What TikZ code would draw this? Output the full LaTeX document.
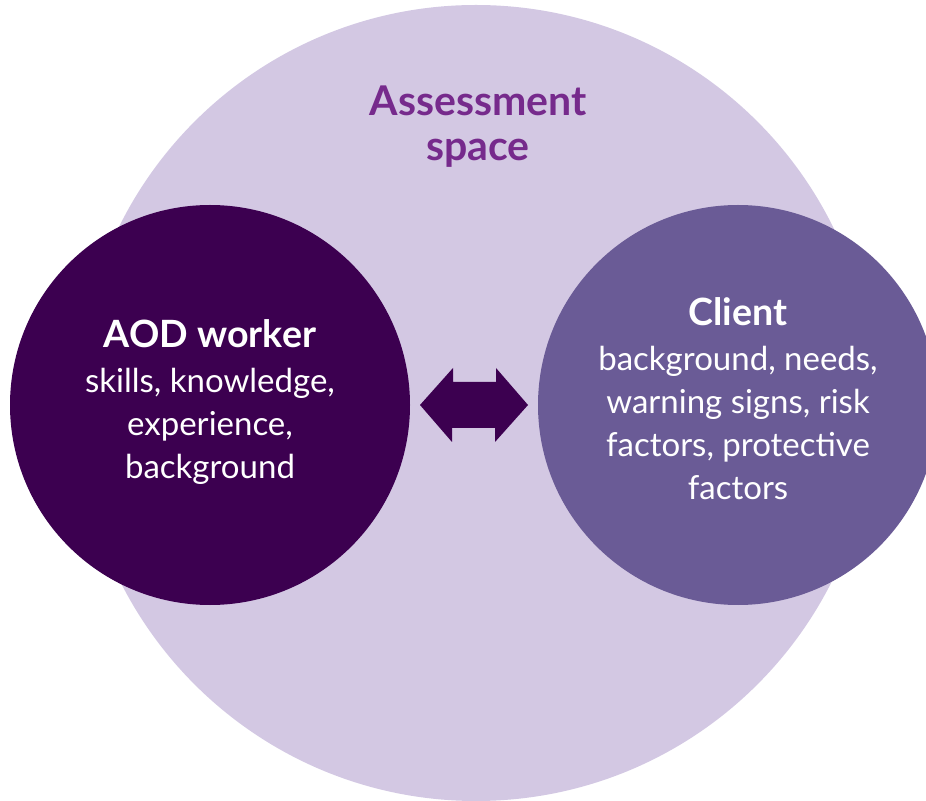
\documentclass[tikz,border=0pt]{standalone}
\usepackage{fontspec}
\setmainfont{Lato}
\usetikzlibrary{positioning}
\definecolor{spacebg}{HTML}{D3C8E3}
\definecolor{workerc}{HTML}{3C0050}
\definecolor{clientc}{HTML}{6A5B96}
\definecolor{titlec}{HTML}{762A8C}
\tikzset{
    party/.style={circle, minimum size=200pt, inner sep=0pt, align=center, text=white,
                  font=\fontsize{16.5}{21.5}\selectfont},
}
\newcommand{\partyname}[1]{{\fontsize{18.8}{22}\selectfont\bfseries #1}}

\begin{document}
\begin{tikzpicture}[x=0.5pt, y=-0.5pt]
    \useasboundingbox (0,0) rectangle (926,801);
    \clip (0,0) rectangle (926,801);
    % the assessment space
    \node[circle, fill=spacebg, minimum size=398pt, inner sep=0pt] (space) at (476,403) {};
    \node[text=titlec, align=center, font=\fontsize{20.5}{22.5}\selectfont\bfseries] (title) at (478,127) {Assessment\\space};

    \node[party, fill=workerc] (worker) at (210,405) {};
    \node[align=center, text=white, font=\fontsize{16.5}{21.5}\selectfont] (workertext) at (210,402)
        {\partyname{AOD worker}\\[1pt]skills, knowledge,\\experience,\\background};
    \node[party, fill=clientc] (client) at (738,405) {};
    \node[align=center, text=white, font=\fontsize{16.5}{21.5}\selectfont] (clienttext) at (738,399)
        {\partyname{Client}\\[1pt]background, needs,\\warning signs, risk\\factors, protective\\factors};

    % two-way link
    \coordinate (link) at (474,405);
    \fill[workerc] ([xshift=-27pt]link) -- ++(16.5pt,18.5pt) -- ++(0,-7pt) -- ++(21.5pt,0)
        -- ++(0,7pt) -- ([xshift=27pt]link) -- ++(-16.5pt,-18.5pt) -- ++(0,7pt) -- ++(-21.5pt,0)
        -- ++(0,-7pt) -- cycle;
\end{tikzpicture}
\end{document}
